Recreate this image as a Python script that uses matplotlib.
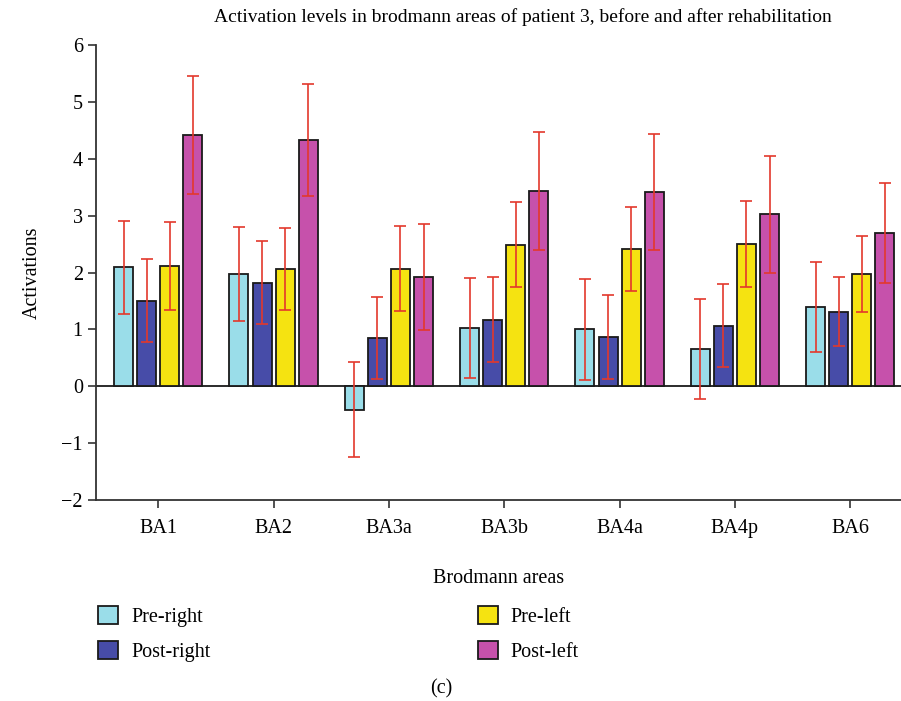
"""
Activation levels per Brodmann area, patient 3, before/after rehabilitation.
Output: out.png
"""
import matplotlib
matplotlib.use("Agg")
import matplotlib.pyplot as plt
import numpy as np
from matplotlib.patches import Patch

plt.rcParams["font.family"] = ["Liberation Serif", "DejaVu Serif"]

AREAS = ["BA1", "BA2", "BA3a", "BA3b", "BA4a", "BA4p", "BA6"]
SERIES = ["Pre-right", "Post-right", "Pre-left", "Post-left"]

pre_right = [2.09, 1.97, -0.41, 1.02, 1.00, 0.65, 1.40]
post_right = [1.50, 1.82, 0.85, 1.17, 0.87, 1.06, 1.31]
pre_left = [2.11, 2.06, 2.07, 2.49, 2.41, 2.50, 1.97]
post_left = [4.42, 4.33, 1.92, 3.43, 3.42, 3.02, 2.70]

err_pre_right = [0.82, 0.83, 0.83, 0.88, 0.89, 0.88, 0.79]
err_post_right = [0.73, 0.73, 0.72, 0.75, 0.74, 0.73, 0.61]
err_pre_left = [0.77, 0.72, 0.74, 0.75, 0.74, 0.76, 0.67]
err_post_left = [1.04, 0.98, 0.93, 1.04, 1.02, 1.03, 0.88]

COLORS = ["#9adde9", "#474ca8", "#f5e311", "#c651ab"]
ERR_COLOR = "#e3382c"
FS = 14.5


def main():
    values = [pre_right, post_right, pre_left, post_left]
    errors = [err_pre_right, err_post_right, err_pre_left, err_post_left]

    fig = plt.figure(figsize=(9.01, 7.01), dpi=100)
    ax = fig.add_axes([0.1065, 0.2867, 0.8935, 0.6491])

    x = np.arange(len(AREAS))
    step = 0.2
    width = 0.165
    for i, (vals, errs, color) in enumerate(zip(values, errors, COLORS)):
        pos = x + (i - 1.5) * step
        ax.bar(pos, vals, width=width, color=color, edgecolor="#1a1a1a",
               linewidth=1.3, zorder=2)
        ax.errorbar(pos, vals, yerr=errs, fmt="none", ecolor=ERR_COLOR,
                    elinewidth=1.2, capsize=4, capthick=1.2, zorder=3)

    ax.axhline(0, color="#1a1a1a", lw=1.3, zorder=1)

    ax.set_xlim(-0.54, 6.44)
    ax.set_ylim(-2, 6)
    ax.set_yticks(range(-2, 7))
    ax.set_yticklabels([str(v).replace("-", "\u2212") for v in range(-2, 7)])
    ax.set_xticks(x)
    ax.set_xticklabels(AREAS)
    ax.tick_params(labelsize=FS, length=6, width=1.2, color="#333333")
    ax.tick_params(axis="x", pad=8)

    for side in ("top", "right"):
        ax.spines[side].set_visible(False)
    for side in ("left", "bottom"):
        ax.spines[side].set_linewidth(1.3)
        ax.spines[side].set_color("#333333")

    ax.set_ylabel("Activations", fontsize=FS, labelpad=14)
    ax.set_xlabel("Brodmann areas", fontsize=FS, labelpad=22)
    fig.text(0.58, 0.975, "Activation levels in brodmann areas of patient 3, "
             "before and after rehabilitation", ha="center", va="center",
             fontsize=14)

    handles = [Patch(facecolor=c, edgecolor="#1a1a1a", linewidth=1.3)
               for c in COLORS]
    leg_kw = dict(frameon=False, fontsize=FS, handlelength=1.0,
                  handleheight=1.0, handletextpad=0.65, labelspacing=0.7,
                  loc="upper left")
    fig.legend(handles[:2], SERIES[:2], bbox_to_anchor=(0.089, 0.161),
               **leg_kw)
    fig.legend(handles[2:], SERIES[2:], bbox_to_anchor=(0.510, 0.161),
               **leg_kw)
    fig.text(0.49, 0.018, "(c)", ha="center", va="center", fontsize=FS)

    fig.savefig("out.png", dpi=100)
    plt.close(fig)


if __name__ == "__main__":
    main()
